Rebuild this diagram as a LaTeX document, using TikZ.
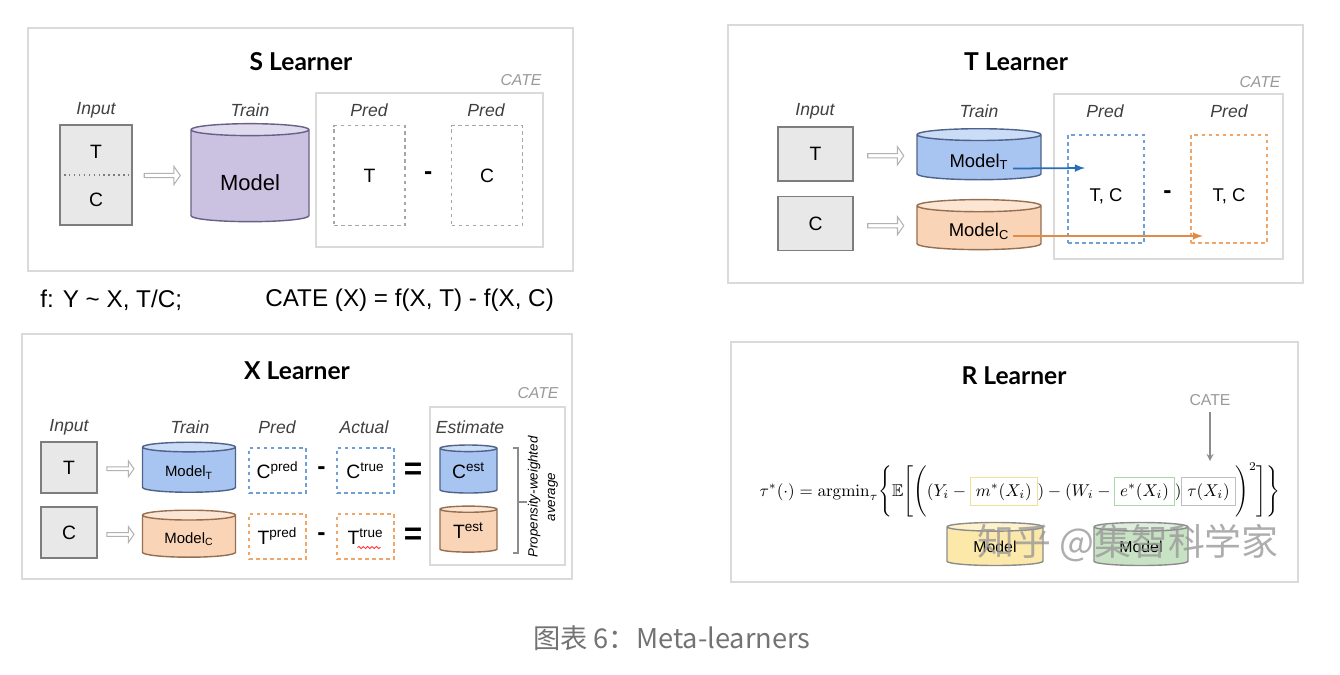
\documentclass[tikz,border=0pt]{standalone}
\usepackage[no-math]{fontspec}
\setmainfont{Liberation Sans}
\newfontfamily\titlefont{Lato}
\newfontfamily\cjk{Noto Sans CJK SC}
\usepackage{amsmath}
\usepackage{amssymb}
\usepackage{graphicx}
\definecolor{framegray}{RGB}{218,218,218}
\definecolor{boxgray}{RGB}{232,232,232}
\definecolor{edgegray}{RGB}{125,125,125}
\definecolor{lavender}{RGB}{203,194,226}
\definecolor{lavenderdark}{RGB}{105,96,135}
\definecolor{skyblue}{RGB}{168,196,240}
\definecolor{skybluedark}{RGB}{78,98,138}
\definecolor{peach}{RGB}{250,212,182}
\definecolor{peachdark}{RGB}{150,110,80}
\definecolor{butter}{RGB}{252,233,170}
\definecolor{butterline}{RGB}{240,225,150}
\definecolor{mint}{RGB}{200,226,196}
\definecolor{mintline}{RGB}{170,215,165}
\definecolor{dashblue}{RGB}{110,160,215}
\definecolor{dashorange}{RGB}{240,165,105}
\definecolor{arrowblue}{RGB}{40,110,180}
\definecolor{arroworange}{RGB}{225,140,70}
\usetikzlibrary{shapes.geometric, shapes.arrows, arrows, calc, decorations.pathmorphing}

\tikzset{
    panel/.style = {draw = framegray, line width = 1.2pt},
    catebox/.style = {draw = framegray, line width = 0.8pt},
    title/.style = {font = \titlefont\bfseries\fontsize{14}{17}\selectfont},
    head/.style = {font = \itshape\fontsize{10}{12}\selectfont, text = black!75},
    catelabel/.style = {font = \itshape\fontsize{9}{11}\selectfont, text = black!40},
    plain/.style = {font = \fontsize{11}{13}\selectfont},
    wh/.style 2 args = {minimum width = #1*\px, minimum height = #2*\px},
    textdown/.style = {text height = #1},
    inbox/.style = {draw = edgegray, fill = boxgray, line width = 0.9pt, inner sep = 0pt, font = \fontsize{11}{13}\selectfont},
    predbox/.style = {draw = #1, dash pattern = on 2pt off 2pt, line width = 0.6pt, inner sep = 0pt},
    db/.style 2 args = {cylinder, shape border rotate = 90, aspect = 0.2, draw = #2, line width = 0.8pt,
        cylinder uses custom fill, cylinder body fill = #1, cylinder end fill = #1!60!white, inner sep = 0pt},
    hollow/.style = {single arrow, draw = black!30, fill = white, line width = 0.6pt, inner sep = 0pt,
        single arrow head extend = 1pt, single arrow tip angle = 110},
    minus/.style = {font = \bfseries\fontsize{14}{16}\selectfont},
    equal/.style = {font = \bfseries\fontsize{18}{20}\selectfont},
}

\begin{document}
\begin{tikzpicture}[x = 0.02cm, y = -0.02cm]
    \def \px {0.02cm}
    \useasboundingbox (0,0) rectangle (1340,674);

    %% S Learner
    \draw[panel] (28,28) rectangle (573,271);
    \node[title] (s-title) at (301,62) {S Learner};
    \draw[catebox] (316,93) rectangle (543,247);
    \node[catelabel] (s-cate) at (521,80) {CATE};
    \node[head] (s-hin) at (96,110) {Input};
    \node[head] (s-htrain) at (250,110) {Train};
    \node[head] (s-hp1) at (369,110) {Pred};
    \node[head] (s-hp2) at (486,110) {Pred};

    \node[inbox, wh = {72}{100}] (s-in) at (96,175) {};
    \draw[dotted, edgegray, line width = 0.8pt] (s-in.west) -- (s-in.east);
    \node[plain] (s-inT) at (96,152) {T};
    \node[plain] (s-inC) at (96,200) {C};
    \node[db = {lavender}{lavenderdark}, wh = {118}{98}, textdown = 17pt, font = \fontsize{12.5}{14}\selectfont] (s-model) at (250,176) {Model};
    \node[hollow, wh = {18}{36}] (s-arr) at ($(s-in.east)!0.5!(s-model.west)$) {};

    \node[predbox = black!35, wh = {71}{100}, plain] (s-pT) at (369.5,175.5) {T};
    \node[predbox = black!35, wh = {71}{100}, plain] (s-pC) at (487,175.5) {C};
    \node[minus] (s-minus) at ($(s-pT.east)!0.5!(s-pC.west)$) {-};

    \node[anchor = west, inner sep = 0pt, font = \fontsize{13.8}{16}\selectfont] (s-f1) at (40,300) {f: Y \textasciitilde{} X, T/C;};
    \node[anchor = west, inner sep = 0pt, font = \fontsize{13.8}{16}\selectfont] (s-f2) at (265,300) {CATE (X) = f(X, T) - f(X, C)};

    %% T Learner
    \draw[panel] (728,25) rectangle (1303,283);
    \node[title] (t-title) at (1016,62) {T Learner};
    \draw[catebox] (1054,94) rectangle (1283,259);
    \node[catelabel] (t-cate) at (1260,82) {CATE};
    \node[head] (t-hin) at (815,111) {Input};
    \node[head] (t-htrain) at (979,111) {Train};
    \node[head] (t-hp1) at (1105,111) {Pred};
    \node[head] (t-hp2) at (1229,111) {Pred};

    \node[inbox, wh = {75}{54}] (t-inT) at (815.5,154) {T};
    \node[inbox, wh = {75}{54}] (t-inC) at (815.5,223.5) {C};
    \node[db = {skyblue}{skybluedark}, wh = {124}{51}, textdown = 12.5pt, font = \fontsize{10.5}{12}\selectfont] (t-mT) at (979,157.5) {Model\textsubscript{T}};
    \node[db = {peach}{peachdark}, wh = {124}{50}, textdown = 11pt, font = \fontsize{10.5}{12}\selectfont] (t-mC) at (979,228) {Model\textsubscript{C}};
    \node[hollow, wh = {18}{36}] (t-arrT) at ($(t-inT.east)!0.5!(t-mT.west)$) {};
    \node[hollow, wh = {18}{36}] (t-arrC) at ($(t-inC.east)!0.5!(t-mC.west)$) {};

    \node[predbox = dashblue, wh = {76}{108}, text height = 16pt, text depth = 1.6pt, font = \fontsize{10.5}{12}\selectfont] (t-pT) at (1106,189) {T, C};
    \node[predbox = dashorange, wh = {76}{108}, text height = 16pt, text depth = 1.6pt, font = \fontsize{10.5}{12}\selectfont] (t-pC) at (1229,189) {T, C};
    \node[minus, yshift = -6*\px] (t-minus) at ($(t-pT.east)!0.5!(t-pC.west)$) {-};

    \coordinate (t-pT-in) at (1085,168);
    \coordinate (t-pC-in) at (1203,236);
    \draw[->, >=latex, arrowblue, line width = 1pt] ($(t-mT.center)+(34,11)$) -- (t-pT-in);
    \draw[->, >=latex, arroworange, line width = 1pt] ($(t-mC.center)+(34,8)$) -- (t-pC-in);

    %% X Learner
    \draw[panel] (22,334) rectangle (572,579);
    \node[title] (x-title) at (297,371) {X Learner};
    \draw[catebox] (430,407) rectangle (565,565);
    \node[catelabel] (x-cate) at (538,393) {CATE};
    \node[head] (x-hin) at (69,427) {Input};
    \node[head] (x-htrain) at (190,427) {Train};
    \node[head] (x-hpred) at (277,427) {Pred};
    \node[head] (x-hact) at (364,427) {Actual};
    \node[head] (x-hest) at (470,427) {Estimate};

    \node[inbox, wh = {56}{51}] (x-inT) at (69,467.5) {T};
    \node[inbox, wh = {56}{51}] (x-inC) at (69,532.5) {C};
    \node[db = {skyblue}{skybluedark}, wh = {93}{50}, textdown = 9pt, font = \fontsize{8.5}{10}\selectfont] (x-mT) at (189,470) {Model\textsubscript{T}};
    \node[db = {peach}{peachdark}, wh = {93}{47}, textdown = 9pt, font = \fontsize{8.5}{10}\selectfont] (x-mC) at (189,536.5) {Model\textsubscript{C}};
    \node[hollow, wh = {16}{27}] (x-arrT) at ($(x-inT.east)!0.5!(x-mT.west)$) {};
    \node[hollow, wh = {16}{27}] (x-arrC) at ($(x-inC.east)!0.5!(x-mC.west)$) {};

    \node[predbox = dashblue, wh = {57}{45}, plain] (x-pT) at (277.5,470.5) {C\textsuperscript{pred}};
    \node[predbox = dashblue, wh = {57}{45}, plain] (x-aT) at (365.5,470.5) {C\textsuperscript{true}};
    \node[predbox = dashorange, wh = {57}{45}, plain] (x-pC) at (277.5,536.5) {T\textsuperscript{pred}};
    \node[predbox = dashorange, wh = {57}{45}, plain] (x-aC) at (365.5,536.5) {T\textsuperscript{true}};
    \draw[red!80, line width = 0.5pt, decorate, decoration = {snake, amplitude = 0.6pt, segment length = 2.5pt}]
        ($(x-aC.center)+(-8,11)$) -- ($(x-aC.center)+(15,11)$);
    \node[minus] (x-minusT) at ($(x-pT.east)!0.5!(x-aT.west)$) {-};
    \node[minus] (x-minusC) at ($(x-pC.east)!0.5!(x-aC.west)$) {-};
    \node[equal] (x-eqT) at (413,471) {=};
    \node[equal] (x-eqC) at (413,536) {=};

    \node[db = {skyblue}{skybluedark}, wh = {57}{48}, plain] (x-eT) at (468.5,471) {C\textsuperscript{est}};
    \node[db = {peach}{peachdark}, wh = {57}{46}, plain] (x-eC) at (468.5,531) {T\textsuperscript{est}};
    \draw[black!45, line width = 0.7pt] (513,448) -- (518,448) -- (518,553) -- (513,553);
    \draw[black!45, line width = 0.7pt] (518,502) -- (527,502);
    \node[rotate = 90, align = center, font = \itshape\fontsize{7.6}{10}\selectfont] (x-avg) at (543,497) {Propensity-weighted\\average};

    %% R Learner
    \draw[panel] (731,342) rectangle (1298,582);
    \node[title] (r-title) at (1014,376) {R Learner};
    \node[font = \fontsize{9}{11}\selectfont, text = black!40] (r-cate) at (1210,400) {CATE};
    \coordinate (r-tau) at (1210,461);
    \draw[->, >=stealth, black!45, line width = 0.8pt] (r-cate.south) -- (r-tau);
    \node[db = {butter}{black!45}, wh = {96}{43}, font = \fontsize{9}{11}\selectfont] (r-mm) at (995,546.5) {Model};
    \node[db = {mint}{black!45}, wh = {94}{43}, font = \fontsize{9}{11}\selectfont] (r-me) at (1141,546.5) {Model};
    \setlength{\fboxsep}{3pt}
    \node[inner sep = 0pt] (r-formula) at (1020,490) {\resizebox{10.42cm}{!}{$\tau^*(\cdot) = \mathrm{argmin}_\tau
        \Bigg\{ \mathbb{E} \Bigg[ \Bigg( (Y_i - \fcolorbox{butterline}{white}{$m^*(X_i)$})
        - (W_i - \fcolorbox{mintline}{white}{$e^*(X_i)$}) \fcolorbox{black!25}{white}{$\tau(X_i)$} \Bigg)^2 \Bigg] \Bigg\}$}};
    \node[font = \cjk\fontsize{21}{24}\selectfont, text = black!40, opacity = 0.8] (r-mark) at (1128,543) {知乎 @集智科学家};

    %% caption
    \node[font = \cjk\fontsize{15.5}{18}\selectfont, text = black!55] (caption) at (672,638) {图表 6：Meta-learners};
\end{tikzpicture}
\end{document}
